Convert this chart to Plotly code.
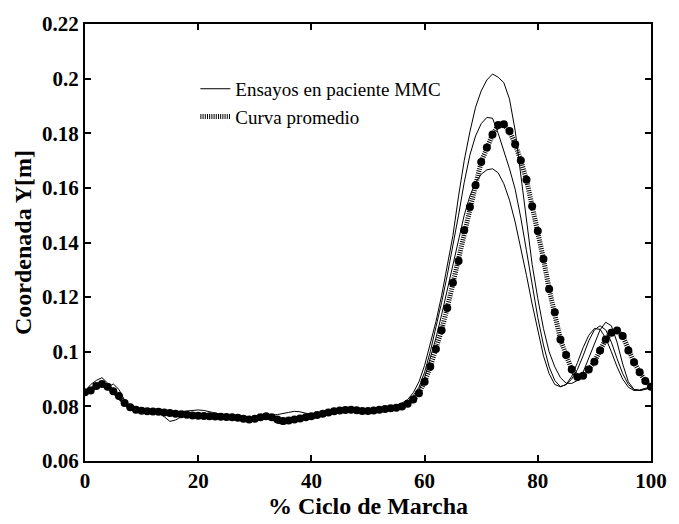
import plotly.graph_objects as go

# % of gait cycle
pct = list(range(0, 101))

trial_a = [
    0.0855, 0.0880, 0.0895, 0.0905, 0.0885, 0.0850, 0.0825, 0.0805, 0.0795, 0.0790,
    0.0787, 0.0785, 0.0784, 0.0783, 0.0781, 0.0779, 0.0777, 0.0776, 0.0775, 0.0774,
    0.0772, 0.0770, 0.0768, 0.0766, 0.0765, 0.0764, 0.0763, 0.0761, 0.0758, 0.0756,
    0.0758, 0.0762, 0.0765, 0.0762, 0.0755, 0.0750, 0.0752, 0.0756, 0.0760, 0.0764,
    0.0768, 0.0772, 0.0776, 0.0780, 0.0783, 0.0786, 0.0788, 0.0789, 0.0788, 0.0786,
    0.0786, 0.0788, 0.0791, 0.0795, 0.0800, 0.0805, 0.0812, 0.0825, 0.0850, 0.0890,
    0.0950, 0.1025, 0.1110, 0.1205, 0.1310, 0.1425, 0.1570, 0.1700, 0.1805, 0.1895,
    0.1955, 0.1995, 0.2017, 0.2005, 0.1985, 0.1925, 0.1810, 0.1640, 0.1475, 0.1320,
    0.1195, 0.1085, 0.1000, 0.0945, 0.0905, 0.0885, 0.0884, 0.0895, 0.0925, 0.0975,
    0.1030, 0.1080, 0.1108, 0.1095, 0.1035, 0.0955, 0.0890, 0.0862, 0.0858, 0.0862,
    0.0868,
]

trial_b = [
    0.0850, 0.0865, 0.0885, 0.0878, 0.0870, 0.0882, 0.0862, 0.0822, 0.0800, 0.0790,
    0.0784, 0.0781, 0.0779, 0.0777, 0.0762, 0.0745, 0.0750, 0.0762, 0.0766, 0.0765,
    0.0763, 0.0762, 0.0761, 0.0760, 0.0759, 0.0758, 0.0757, 0.0755, 0.0752, 0.0750,
    0.0752, 0.0756, 0.0760, 0.0752, 0.0738, 0.0735, 0.0738, 0.0745, 0.0752, 0.0758,
    0.0763, 0.0768, 0.0773, 0.0778, 0.0781, 0.0784, 0.0786, 0.0786, 0.0784, 0.0782,
    0.0782, 0.0784, 0.0787, 0.0790, 0.0795, 0.0800, 0.0805, 0.0818, 0.0840, 0.0870,
    0.0925, 0.1000, 0.1085, 0.1180, 0.1280, 0.1385, 0.1500, 0.1620, 0.1720, 0.1790,
    0.1835, 0.1858, 0.1855, 0.1800, 0.1735, 0.1670, 0.1595, 0.1490, 0.1370, 0.1240,
    0.1125, 0.1025, 0.0945, 0.0895, 0.0872, 0.0880, 0.0910, 0.0960, 0.1015, 0.1060,
    0.1085, 0.1082, 0.1050, 0.1000, 0.0945, 0.0900, 0.0870, 0.0858, 0.0860, 0.0866,
    0.0872,
]

trial_c = [
    0.0848, 0.0860, 0.0870, 0.0878, 0.0868, 0.0845, 0.0828, 0.0810, 0.0795, 0.0785,
    0.0780, 0.0778, 0.0777, 0.0776, 0.0776, 0.0777, 0.0779, 0.0782, 0.0785, 0.0787,
    0.0787, 0.0785, 0.0780, 0.0775, 0.0770, 0.0766, 0.0762, 0.0758, 0.0755, 0.0753,
    0.0755, 0.0760, 0.0765, 0.0768, 0.0770, 0.0773, 0.0778, 0.0782, 0.0780, 0.0775,
    0.0772, 0.0773, 0.0776, 0.0779, 0.0782, 0.0784, 0.0785, 0.0785, 0.0783, 0.0781,
    0.0781, 0.0783, 0.0786, 0.0789, 0.0793, 0.0797, 0.0802, 0.0812, 0.0830, 0.0858,
    0.0905, 0.0975, 0.1050, 0.1135, 0.1225, 0.1320, 0.1415, 0.1500, 0.1570, 0.1620,
    0.1650, 0.1666, 0.1670, 0.1655, 0.1615, 0.1555, 0.1475, 0.1380, 0.1280, 0.1175,
    0.1075, 0.0985, 0.0920, 0.0880, 0.0872, 0.0880, 0.0900, 0.0935, 0.0985, 0.1040,
    0.1080, 0.1095, 0.1080, 0.1035, 0.0975, 0.0920, 0.0880, 0.0862, 0.0858, 0.0862,
    0.0868,
]

mean_curve = [
    0.0852, 0.0858, 0.0875, 0.0882, 0.0872, 0.0855, 0.0838, 0.0812, 0.0797, 0.0788,
    0.0784, 0.0782, 0.0781, 0.0780, 0.0778, 0.0776, 0.0773, 0.0771, 0.0769, 0.0767,
    0.0766, 0.0765, 0.0764, 0.0763, 0.0762, 0.0761, 0.0760, 0.0758, 0.0755, 0.0752,
    0.0755, 0.0760, 0.0764, 0.0760, 0.0752, 0.0746, 0.0748, 0.0752, 0.0756, 0.0760,
    0.0764, 0.0768, 0.0773, 0.0778, 0.0782, 0.0785, 0.0787, 0.0788, 0.0786, 0.0783,
    0.0783, 0.0785, 0.0788, 0.0790, 0.0793, 0.0795, 0.0800, 0.0810, 0.0825, 0.0848,
    0.0890, 0.0945, 0.1010, 0.1079, 0.1160, 0.1253, 0.1332, 0.1445, 0.1530, 0.1610,
    0.1695, 0.1748, 0.1795, 0.1830, 0.1833, 0.1808, 0.1760, 0.1700, 0.1630, 0.1533,
    0.1442, 0.1340, 0.1230, 0.1145, 0.1045, 0.0988, 0.0935, 0.0908, 0.0912, 0.0935,
    0.0963, 0.1005, 0.1045, 0.1070, 0.1078, 0.1058, 0.1005, 0.0962, 0.0925, 0.0893,
    0.0872,
]

x_ticks = [0, 20, 40, 60, 80, 100]
y_ticks = [0.06, 0.08, 0.10, 0.12, 0.14, 0.16, 0.18, 0.20, 0.22]
y_tick_text = ["0.06", "0.08", "0.1", "0.12", "0.14", "0.16", "0.18", "0.2", "0.22"]

FONT = "Liberation Serif, Times New Roman, serif"

fig = go.Figure()

for i, tr in enumerate([trial_a, trial_b, trial_c]):
    fig.add_trace(go.Scatter(
        x=pct, y=tr, mode="lines",
        line=dict(color="black", width=1),
        name="Ensayos en paciente MMC",
        showlegend=(i == 0),
    ))

fig.add_trace(go.Scatter(
    x=pct, y=mean_curve, mode="lines",
    line=dict(color="black", width=5, dash="1px,1.2px"),
    name="Curva promedio",
))
fig.add_trace(go.Scatter(
    x=pct, y=mean_curve, mode="markers",
    marker=dict(color="black", size=8, symbol="circle"),
    showlegend=False,
))

axis_common = dict(
    showline=True, linecolor="black", linewidth=2, mirror="ticks",
    ticks="inside", ticklen=6, tickwidth=1.5, tickcolor="black",
    showgrid=False, zeroline=False,
    tickfont=dict(family=FONT, size=21, color="black", weight="bold"),
)

fig.update_layout(
    width=679, height=524,
    margin=dict(l=85, r=20, t=16, b=54),
    paper_bgcolor="white", plot_bgcolor="white",
    xaxis=dict(
        range=[0, 100], tickvals=x_ticks,
        title=dict(text="% Ciclo de Marcha", standoff=2,
                   font=dict(family=FONT, size=24, color="black", weight="bold")),
        **axis_common,
    ),
    yaxis=dict(
        range=[0.06, 0.22], tickvals=y_ticks, ticktext=y_tick_text,
        title=dict(text="Coordenada Y[m]", standoff=4,
                   font=dict(family=FONT, size=24, color="black", weight="bold")),
        **axis_common,
    ),
    legend=dict(
        x=0.195, y=0.895, xanchor="left", yanchor="top",
        bgcolor="rgba(0,0,0,0)",
        font=dict(family=FONT, size=19, color="black"),
        tracegroupgap=0,
    ),
    showlegend=True,
)

fig.write_html("out.html")
